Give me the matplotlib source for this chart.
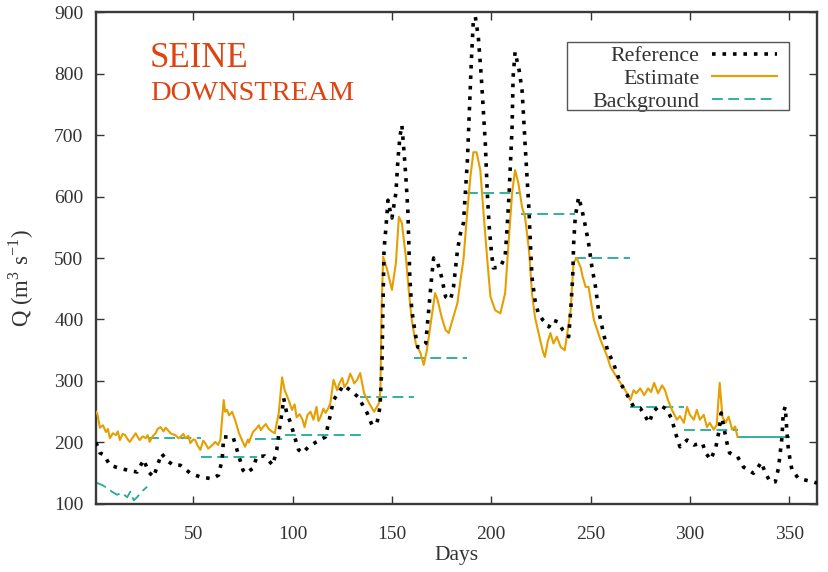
import matplotlib
matplotlib.use("Agg")
import matplotlib.pyplot as plt
from matplotlib.patches import Rectangle

# Observed discharge (Reference)
ref_days = [1, 3, 5, 8, 13, 17, 21.7, 25, 27.5, 30, 32, 34, 37, 40, 43.5, 48.5, 53.5, 59.5,
            62.7, 64.5, 65.3, 70, 72, 75, 76.5, 80, 82, 86, 90, 92, 93.5, 94.7, 95.5, 97, 99,
            101, 103, 105, 108, 112, 116.5, 119, 120.6, 125.6, 129, 133, 137.5, 140, 142.5, 144,
            145, 146, 147, 148, 149, 150, 152, 153, 154, 155, 156, 157, 158, 158.5, 159, 160,
            161.7, 163, 165, 167, 168.5, 170, 171, 173, 175, 177, 179.5, 181, 183, 184.5, 186,
            188, 189, 190, 191, 192, 193.5, 195, 196, 197, 198, 199, 200, 201, 204.5, 207, 208,
            209, 210.5, 211, 212, 214, 215.5, 216.3, 217, 218, 219, 219.7, 220.5, 222, 223.7,
            226, 229, 231, 233.7, 236, 239, 240, 241, 241.5, 242.3, 244, 245.7, 247.5, 249,
            250.7, 252.5, 254, 256.5, 258.5, 261.5, 265, 268.5, 271.7, 275, 278.6, 279.5, 281.5,
            285, 288.6, 291, 292.7, 295, 298.6, 302, 306.3, 308, 310.4, 313, 314.5, 315.8, 317,
            318.7, 320, 324, 327, 329.5, 332, 334.4, 336, 338, 340.5, 343, 344.6, 346.4, 347,
            348, 348.8, 349.6, 351.4, 354.6, 358, 362, 364]
ref_q = [200, 183, 180, 163, 158, 155, 152, 172, 152, 144, 163, 182, 170, 163, 163, 150, 144, 141,
         147, 172, 209, 209, 188, 155, 150, 158, 177, 178, 163, 188, 225, 250, 272, 248, 232,
         209, 188, 183, 193, 201, 209, 245, 269, 293, 285, 274, 248, 228, 232, 258,
         330, 513, 550, 594, 578, 565, 606, 659, 697, 716, 676, 632, 578, 524, 469, 415,
         378, 355, 355, 361, 415, 469, 500, 492, 469, 437, 432, 453, 513, 540, 557,
         659, 740, 822, 887, 892, 859, 794, 740, 687, 606, 550, 513, 484, 485, 502, 550,
         606, 713, 794, 835, 806, 773, 729, 687, 632, 578, 524, 469, 432, 410,
         399, 388, 399, 396, 383, 372, 415, 469, 524, 567, 599, 578, 550, 524,
         485, 453, 415, 378, 350, 329, 297, 277, 258, 256, 237, 232, 250,
         261, 253, 237, 216, 193, 204, 196, 199, 183, 172, 191, 216, 248, 226,
         199, 183, 177, 160, 155, 150, 160, 168, 150, 136, 136, 158, 209, 248,
         258, 221, 188, 155, 142, 139, 136, 134]

# Analysed discharge (Estimate)
est_days = [1, 1.7, 3, 4.5, 6, 7, 8, 9.5, 11, 12, 13, 14.5, 15.6, 17, 18, 19.5, 21, 22, 23, 24.5,
            26, 27, 28, 29.5, 31, 32, 33.5, 35, 36, 37.5, 38.5, 40, 41, 42.5, 43.5, 45, 46, 47.5,
            48.5, 50, 51, 52, 53.5, 55, 56, 57.5, 58.6, 60, 61, 62.5, 63.6, 65.3, 66, 67, 68,
            69.5, 71, 73, 74.5, 76, 77.5, 78, 80, 81.5, 83, 84, 85, 86.5, 88, 89.5, 91, 93, 94.7,
            96, 98, 99.7, 101, 102, 103.5, 105, 106, 107.5, 109, 110.5, 112, 113, 114, 115.5,
            116.6, 118, 119, 120.6, 122.4, 123.5, 125, 126, 127.5, 129, 130, 131, 132.5, 134,
            136, 138.5, 141, 143.5, 144.2, 144.8, 145.6, 147.6, 150, 152, 153.5, 155, 157, 158.6,
            160, 162, 164.4, 166, 167.6, 170, 171.7, 173, 175, 177, 178.6, 180, 183, 184.5, 186,
            188, 189.5, 191, 192.6, 194.5, 196, 198, 199.6, 202, 204.6, 207, 208.7, 210.5, 212,
            213.7, 215.5, 217, 219, 220.5, 222, 224.6, 226, 227, 228.5, 229.8, 231.3, 233, 235,
            237, 240, 241.4, 243, 245, 246, 247.5, 249, 251.7, 255, 258.5, 260, 264, 267.5, 270,
            271.7, 273, 275, 277, 279, 280.5, 282, 284, 286, 287.5, 289, 291, 293.5, 295, 297,
            298.6, 300, 302, 303.5, 305, 307, 308.6, 310, 312, 313.5, 315, 316.4, 318, 319.5,
            321.3, 322.8, 324]
est_q = [250, 246, 224, 228, 217, 222, 207, 215, 212, 218, 204, 214, 212, 205, 201, 208, 215, 209, 204,
         210, 207, 212, 201, 210, 215, 222, 225, 218, 224, 219, 215, 213, 212, 207, 209, 214, 207,
         211, 199, 205, 204, 196, 188, 203, 199, 190, 193, 197, 201, 196, 204, 269, 250, 253, 244,
         250, 237, 215, 204, 193, 205, 200, 217, 222, 228, 220, 225, 230, 222, 218, 215, 248, 306,
         285, 269, 253, 262, 241, 246, 237, 225, 245, 250, 237, 258, 235, 241, 255,
         248, 256, 264, 302, 285, 296, 305, 290, 297, 312, 305, 296, 302, 313,
         280, 264, 250, 264, 285, 420, 502, 481, 448, 492, 567, 557, 502, 443,
         399, 361, 345, 326, 350, 404, 443, 432, 404, 383, 378, 394, 427, 464, 497,
         578, 632, 672, 672, 643, 578, 497, 437, 415, 410, 443, 524, 606, 643,
         621, 583, 567, 513, 443, 404, 367, 348, 339, 365, 378, 361, 372, 355,
         350, 415, 492, 500, 485, 470, 453, 453, 399, 367, 339, 323, 302, 285, 269,
         285, 280, 288, 277, 288, 282, 297, 280, 293, 285, 269, 253, 237, 243, 232,
         258, 245, 237, 253, 237, 245, 225, 232, 221, 228, 297, 242, 232, 242,
         221, 226, 209]

# Background (prior) discharge: an early daily run, then constant windows
bg_early_days = [1, 1.7, 4, 6.6, 9, 11.6, 14, 16.7, 18.3, 20, 21.7, 23.4, 25, 26.7]
bg_early_q = [134, 134, 131, 126, 120, 115, 118, 111, 120, 106, 111, 118, 123, 128]
bg_start = [27, 54, 81, 96, 134, 161, 188, 215, 242, 270, 297]
bg_end = [54, 82, 96, 135, 161, 188, 214, 242, 270, 297, 324]
bg_level = [207, 176, 205, 212, 274, 337, 606, 572, 500, 258, 221]
bg_tail_days = [324, 350]
bg_tail_q = [209, 209]

serif = ["Liberation Serif", "DejaVu Serif"]
plt.rcParams["font.family"] = serif
plt.rcParams["mathtext.fontset"] = "custom"
plt.rcParams["mathtext.rm"] = "Liberation Serif"

W, H = 829, 572
fig = plt.figure(figsize=(W / 100, H / 100), dpi=100)
ax = fig.add_axes([0.1158, 0.1189, 0.8697, 0.8601])

ref_color = "#000000"
est_color = "#e69f00"
bg_color = "#1fab96"

ax.plot(ref_days, ref_q, color=ref_color, lw=2.6, linestyle=(0, (1.0, 1.9)),
        label="Reference", zorder=4)
ax.plot(est_days, est_q, color=est_color, lw=1.5, label="Estimate", zorder=3)

ax.plot(bg_early_days, bg_early_q, color=bg_color, lw=1.3, zorder=2,
        label="Background", linestyle=(0, (6, 3)))
for s, e, v in zip(bg_start, bg_end, bg_level):
    ax.plot([s, e], [v, v], color=bg_color, lw=1.3, linestyle=(0, (6, 3)), zorder=2)
ax.plot(bg_tail_days, bg_tail_q, color=bg_color, lw=1.3, zorder=2)

ax.set_xlim(1, 364)
ax.set_ylim(100, 900)
ax.set_xticks([50, 100, 150, 200, 250, 300, 350])
ax.set_yticks(range(100, 901, 100))

ax.tick_params(direction="in", length=6, width=1.0, top=True, right=True,
               labelsize=14, colors="#333333")
ax.tick_params(axis="x", pad=16)
ax.tick_params(axis="y", pad=9)
for sp in ax.spines.values():
    sp.set_linewidth(1.7)
    sp.set_color("#3a3a3a")

ax.set_xlabel("Days", fontsize=15.5, color="#333333", labelpad=2)
ax.set_ylabel(r"Q (m$^{3}$ s$^{-1}$)", fontsize=16.5, color="#333333")
ax.yaxis.set_label_coords(-0.083, 0.46)

ax.text(0.075, 0.905, "SEINE", transform=ax.transAxes, fontsize=25,
        color="#dd4411", va="center", ha="left")
ax.text(0.075, 0.835, "DOWNSTREAM", transform=ax.transAxes, fontsize=20.5,
        color="#dd4411", va="center", ha="left")

# key: entries right-aligned against their line samples, inside a plain box
leg = ax.legend(loc="upper right", bbox_to_anchor=(777 / W, 1 - 46 / H),
                bbox_transform=fig.transFigure, markerfirst=False,
                fontsize=15.75, frameon=False, handlelength=2.95,
                handletextpad=0.6, labelspacing=0.11, borderpad=0, borderaxespad=0)
for t in leg.get_texts():
    t.set_color("#333333")
fig.add_artist(Rectangle((567 / W, 1 - 110 / H), 222 / W, 68 / H,
                         transform=fig.transFigure, fill=False,
                         edgecolor="#555555", linewidth=1.0, zorder=5))

fig.savefig("out.png", dpi=100)
